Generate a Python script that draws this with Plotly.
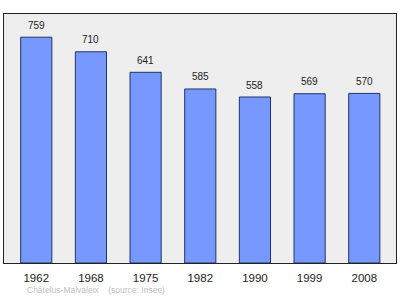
import plotly.graph_objects as go

years = ["1962", "1968", "1975", "1982", "1990", "1999", "2008"]
population = [759, 710, 641, 585, 558, 569, 570]

FONT = "Liberation Sans, Arial, sans-serif"
positions = list(range(len(years)))

fig = go.Figure()
fig.add_trace(go.Bar(
    x=positions,
    y=population,
    width=0.57,
    marker=dict(color="#7799FF", line=dict(color="#223366", width=1)),
    hoverinfo="skip",
))

for pos, val in zip(positions, population):
    fig.add_annotation(
        x=pos, y=val, xref="x", yref="y", text=str(val), showarrow=False,
        yanchor="middle", yshift=12,
        font=dict(size=10, color="#222222", family=FONT),
    )
fig.add_annotation(
    text="Châtelus-Malvaleix    (source: Insee)",
    x=(25 - 4) / 392, y=-(290.5 - 263.5) / 249.5,
    xref="paper", yref="paper", xanchor="left", yanchor="middle",
    showarrow=False,
    font=dict(size=8.5, color="#C0C0C0", family=FONT),
)

fig.update_layout(
    width=400, height=299,
    margin=dict(l=4, r=4, t=14, b=36),
    paper_bgcolor="white",
    plot_bgcolor="#EEEEEE",
    showlegend=False,
    font=dict(family=FONT),
    xaxis=dict(
        range=[-0.59, 6.58],
        tickmode="array", tickvals=positions, ticktext=years,
        showline=True, linecolor="#222222", linewidth=1, mirror=True,
        showgrid=False, zeroline=False,
        ticks="outside", ticklen=4, tickcolor="rgba(0,0,0,0)",
        tickfont=dict(size=11.5, color="#222222"),
    ),
    yaxis=dict(
        range=[0, 837],
        showline=True, linecolor="#222222", linewidth=1, mirror=True,
        showgrid=False, zeroline=False, showticklabels=False, ticks="",
    ),
)

fig.write_html("out.html")
